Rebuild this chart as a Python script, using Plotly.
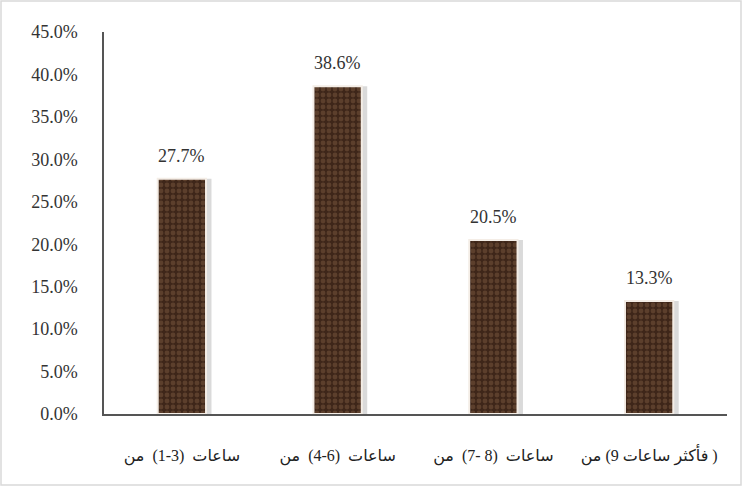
import plotly.graph_objects as go

LRM = "\u200e"
categories = [
    LRM + "من" + LRM + "  (1-3)" + LRM + "  ساعات" + LRM,
    LRM + "من" + LRM + "  (4-6)" + LRM + "  ساعات" + LRM,
    LRM + "من" + LRM + "  (7- 8)" + LRM + "  ساعات" + LRM,
    LRM + "من" + LRM + " (9" + LRM + " ساعات" + LRM + " فأكثر" + LRM + " )" + LRM,
]
values = [27.7, 38.6, 20.5, 13.3]
labels = ["27.7%", "38.6%", "20.5%", "13.3%"]
y_ticks = [0, 5, 10, 15, 20, 25, 30, 35, 40, 45]
y_tick_text = ["%.1f%%" % v for v in y_ticks]

W, H = 742, 486
ML, MR, MT, MB = 104, 15, 32, 72
bw = 0.31

fig = go.Figure()
# shadow
fig.add_trace(go.Bar(
    x=categories, y=values, width=bw, offset=-bw / 2 + 0.035,
    marker=dict(color="rgba(150,150,150,0.35)", line=dict(width=0)),
    hoverinfo="skip", showlegend=False,
))
# main bars
fig.add_trace(go.Bar(
    x=categories, y=values, width=bw, offset=-bw / 2,
    marker=dict(
        color="#3e2619",
        line=dict(color="#f4ede6", width=2),
        pattern=dict(shape=".", fgcolor="#5c3f2c", bgcolor="#3e2619",
                     size=6, solidity=0.5, fillmode="replace"),
    ),
    showlegend=False,
))

annotations = [
    dict(x=c, y=v, text=t, xref="x", yref="y", showarrow=False,
         yanchor="bottom", yshift=11,
         font=dict(family="Liberation Serif, serif", size=18, color="#333333"))
    for c, v, t in zip(categories, values, labels)
]

fig.update_layout(
    width=W, height=H,
    margin=dict(l=ML, r=MR, t=MT, b=MB),
    paper_bgcolor="white", plot_bgcolor="white",
    barmode="overlay",
    font=dict(family="Liberation Serif, DejaVu Serif, serif", color="#333333"),
    annotations=annotations,
    xaxis=dict(
        showline=True, linecolor="#555555", linewidth=1.5,
        showgrid=False, ticks="", ticklabelstandoff=26,
        tickfont=dict(family="Liberation Serif, DejaVu Sans, serif", size=16, color="#222222"),
    ),
    yaxis=dict(
        range=[0, 45], tickvals=y_ticks, ticktext=y_tick_text,
        showline=True, linecolor="#555555", linewidth=1.5,
        showgrid=False, ticks="", ticklabelstandoff=21,
        tickfont=dict(family="Liberation Serif, serif", size=18, color="#333333"),
        zeroline=False,
    ),
    shapes=[dict(
        type="rect", xref="paper", yref="paper",
        x0=-(ML - 1) / (W - ML - MR), x1=1 + (MR - 1) / (W - ML - MR),
        y0=-(MB - 1) / (H - MT - MB), y1=1 + (MT - 1) / (H - MT - MB),
        line=dict(color="#d9d9d9", width=1.5), fillcolor="rgba(0,0,0,0)",
        layer="below",
    )],
)

fig.write_html("out.html")
